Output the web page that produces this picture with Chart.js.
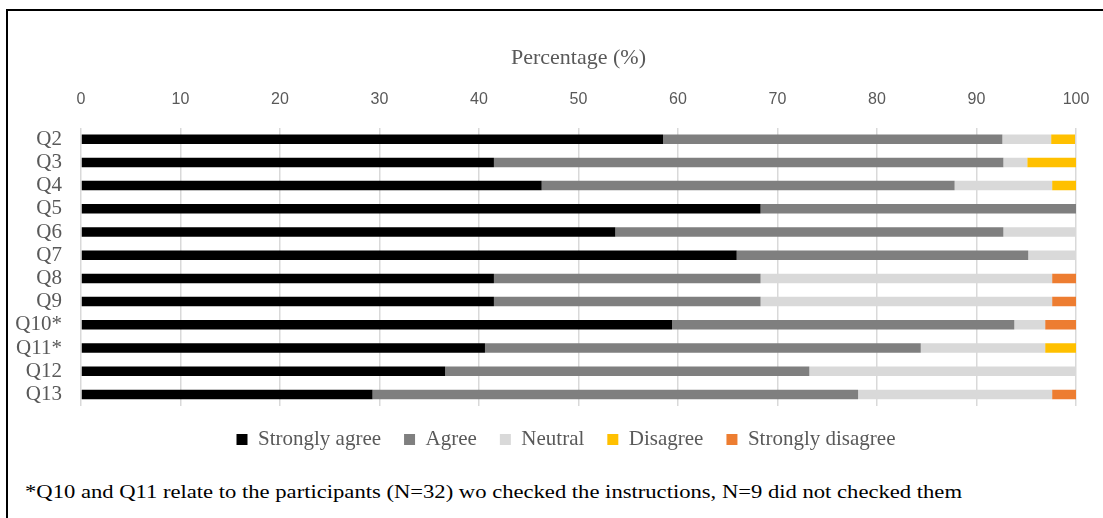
<!DOCTYPE html>
<html>
<head>
<meta charset="utf-8">
<script src="https://cdn.jsdelivr.net/npm/chart.js@4"></script>
<style>
  html, body { margin: 0; padding: 0; background: #fff; }
  body { width: 1103px; height: 518px; position: relative; overflow: hidden; }
  #frame {
    position: absolute; left: 6px; top: 9px; width: 1200px; height: 600px;
    border-top: 2px solid #000; border-left: 2px solid #000;
  }
  #wrap { position: absolute; left: 0; top: 0; width: 1103px; height: 460px; }
  #note {
    position: absolute; left: 25px; top: 481px;
    font: 19px "Liberation Serif", "Times New Roman", serif; color: #000;
    white-space: nowrap;
    transform: scaleX(1.19); transform-origin: 0 0;
  }
</style>
</head>
<body>
<div id="frame"></div>
<div id="wrap"><canvas id="chart"></canvas></div>
<div id="note">*Q10 and Q11 relate to the participants (N=32) wo checked the instructions, N=9 did not checked them</div>

<script>
// ==============================
// Data (percent of respondents)
// ==============================
const questions = ['Q2', 'Q3', 'Q4', 'Q5', 'Q6', 'Q7', 'Q8', 'Q9', 'Q10*', 'Q11*', 'Q12', 'Q13'];
const stronglyAgree    = [58.5, 41.5, 46.3, 68.3, 53.7, 65.9, 41.5, 41.5, 59.4, 40.6, 36.6, 29.3];
const agree            = [34.1, 51.2, 41.5, 31.7, 39.0, 29.3, 26.8, 26.8, 34.4, 43.8, 36.6, 48.8];
const neutral          = [4.9, 2.4, 9.8, 0, 7.3, 4.9, 29.3, 29.3, 3.1, 12.5, 26.8, 19.5];
const disagree         = [2.4, 4.9, 2.4, 0, 0, 0, 0, 0, 0, 3.1, 0, 0];
const stronglyDisagree = [0, 0, 0, 0, 0, 0, 2.4, 2.4, 3.1, 0, 0, 2.4];

const serif = '"Liberation Serif", "Times New Roman", serif';
const grey = '#595959';

function series(label, data, color) {
    return {
        label: label,
        data: data,
        backgroundColor: color,
        borderWidth: 0,
        barPercentage: 0.41,
        categoryPercentage: 1
    };
}

// legend sits a bit right of centre in the original
const legendShift = {
    id: 'legendShift',
    afterLayout(chart) {
        chart.legend.left += 28;
        chart.legend.right += 28;
    }
};

const ctx = document.getElementById('chart').getContext('2d');
new Chart(ctx, {
    type: 'bar',
    data: {
        labels: questions,
        datasets: [
            series('Strongly agree', stronglyAgree, '#000000'),
            series('Agree', agree, '#7f7f7f'),
            series('Neutral', neutral, '#d9d9d9'),
            series('Disagree', disagree, '#ffc000'),
            series('Strongly disagree', stronglyDisagree, '#ed7d31')
        ]
    },
    options: {
        indexAxis: 'y',
        responsive: true,
        maintainAspectRatio: false,
        animation: false,
        layout: { padding: { left: 0, right: 27, top: 45, bottom: 0 } },
        scales: {
            x: {
                position: 'top',
                stacked: true,
                min: 0,
                max: 100,
                ticks: {
                    stepSize: 10,
                    padding: 0,
                    color: grey,
                    font: { family: '"Liberation Sans", Arial, sans-serif', size: 16 }
                },
                // invisible tick marks keep the gap between labels and bars
                grid: { color: '#d9d9d9', drawTicks: true, tickLength: 18, tickColor: 'rgba(0,0,0,0)', lineWidth: 1.5 },
                border: { display: false },
                title: {
                    display: true,
                    text: 'Percentage (%)',
                    color: grey,
                    font: { family: serif, size: 22 },
                    padding: { top: 0, bottom: 19 }
                }
            },
            y: {
                stacked: true,
                afterFit: (scale) => { scale.width = 81; },
                ticks: {
                    autoSkip: false,
                    padding: 11,
                    color: grey,
                    font: { family: serif, size: 21 }
                },
                grid: { display: false },
                border: { display: false }
            }
        },
        plugins: {
            legend: {
                position: 'bottom',
                labels: {
                    boxWidth: 11,
                    boxHeight: 11,
                    padding: 23,
                    color: grey,
                    font: { family: serif, size: 21 }
                }
            },
            tooltip: { enabled: false }
        }
    },
    plugins: [legendShift]
});
</script>
</body>
</html>
